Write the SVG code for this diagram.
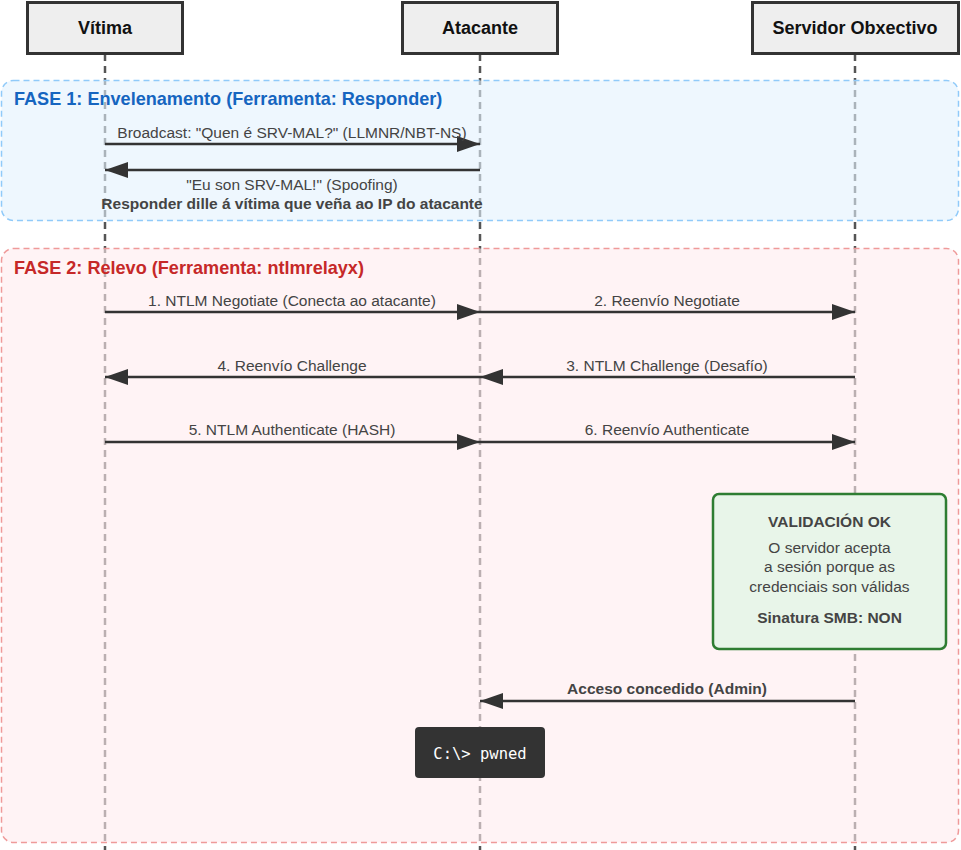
<svg xmlns="http://www.w3.org/2000/svg" width="961" height="850" viewBox="0 0 961 850">
<style>
.hdr rect{fill:#eeeeee;stroke:#333;stroke-width:3}
.hdr text{font-family:"Liberation Sans",Arial,sans-serif;font-weight:bold;font-size:18px;fill:#111;text-anchor:middle}
.life{stroke:#555;stroke-width:2.5;stroke-dasharray:7 5}
.msg{stroke:#333;stroke-width:2.5;fill:none;marker-end:url(#ah)}
.lbl{font-family:"Liberation Sans",Arial,sans-serif;font-size:15.5px;fill:#444;text-anchor:middle}
.b{font-weight:bold}
.title{font-family:"Liberation Sans",Arial,sans-serif;font-weight:bold;font-size:18.1px}
</style>
<defs>
<marker id="ah" markerUnits="userSpaceOnUse" markerWidth="23" markerHeight="16" refX="23" refY="8" orient="auto">
<path d="M0,0 L23,8 L0,16 z" fill="#333"/>
</marker>
</defs>
<rect width="961" height="850" fill="#ffffff"/>
<g id="lifelines">
<line class="life" x1="105" y1="54" x2="105" y2="850"/>
<line class="life" x1="480" y1="54" x2="480" y2="850"/>
<line class="life" x1="855" y1="54" x2="855" y2="850"/>
</g>
<g id="fase1">
<rect x="1.5" y="80.5" width="957" height="140" rx="12" fill="#e3f2fd" fill-opacity="0.6" stroke="#90caf9" stroke-width="1.5" stroke-dasharray="6 4"/>
<text class="title" x="14" y="105" fill="#1565c0">FASE 1: Envelenamento (Ferramenta: Responder)</text>
</g>
<g id="fase2">
<rect x="1.5" y="248.5" width="957" height="594" rx="12" fill="#ffebee" fill-opacity="0.6" stroke="#ef9a9a" stroke-width="1.5" stroke-dasharray="6 4"/>
<text class="title" x="14" y="274" fill="#c62828">FASE 2: Relevo (Ferramenta: ntlmrelayx)</text>
</g>
<g id="victima" class="hdr"><rect x="27.5" y="2.5" width="155" height="51"/><text x="105" y="34">Vítima</text></g>
<g id="atacante" class="hdr"><rect x="402.5" y="2.5" width="155" height="51"/><text x="480" y="34">Atacante</text></g>
<g id="servidor" class="hdr"><rect x="752.5" y="2.5" width="206" height="51"/><text x="855" y="34">Servidor Obxectivo</text></g>
<g id="connectors">
<line class="msg" x1="105" y1="144" x2="480" y2="144"/>
<text class="lbl" x="292" y="138">Broadcast: "Quen é SRV-MAL?" (LLMNR/NBT-NS)</text>
<line class="msg" x1="480" y1="170" x2="105" y2="170"/>
<text class="lbl" x="292" y="190">"Eu son SRV-MAL!" (Spoofing)</text>
<text class="lbl b" x="292" y="209">Responder dille á vítima que veña ao IP do atacante</text>
<line class="msg" x1="105" y1="312" x2="480" y2="312"/>
<text class="lbl" x="292" y="306">1. NTLM Negotiate (Conecta ao atacante)</text>
<line class="msg" x1="480" y1="312" x2="855" y2="312"/>
<text class="lbl" x="667" y="306">2. Reenvío Negotiate</text>
<line class="msg" x1="855" y1="377" x2="480" y2="377"/>
<text class="lbl" x="667" y="371">3. NTLM Challenge (Desafío)</text>
<line class="msg" x1="480" y1="377" x2="105" y2="377"/>
<text class="lbl" x="292" y="371">4. Reenvío Challenge</text>
<line class="msg" x1="105" y1="442" x2="480" y2="442"/>
<text class="lbl" x="292" y="435">5. NTLM Authenticate (HASH)</text>
<line class="msg" x1="480" y1="442" x2="855" y2="442"/>
<text class="lbl" x="667" y="435">6. Reenvío Authenticate</text>
<line class="msg" x1="855" y1="701" x2="480" y2="701"/>
<text class="lbl b" x="667" y="694">Acceso concedido (Admin)</text>
</g>
<g id="validacion">
<rect x="713" y="494" width="233" height="155" rx="6" fill="#e8f5e9" stroke="#2e7d32" stroke-width="2.5"/>
<text class="lbl b" x="829.5" y="527">VALIDACIÓN OK</text>
<text class="lbl" x="829.5" y="553">O servidor acepta</text>
<text class="lbl" x="829.5" y="572">a sesión porque as</text>
<text class="lbl" x="829.5" y="592">credenciais son válidas</text>
<text class="lbl b" x="829.5" y="623">Sinatura SMB: NON</text>
</g>
<g id="pwned">
<rect x="415" y="727" width="130" height="51" rx="4" fill="#333333"/>
<text x="480" y="759" font-family="'DejaVu Sans Mono','Liberation Mono',monospace" font-size="15.5" fill="#ffffff" text-anchor="middle">C:\&gt; pwned</text>
</g>
</svg>
